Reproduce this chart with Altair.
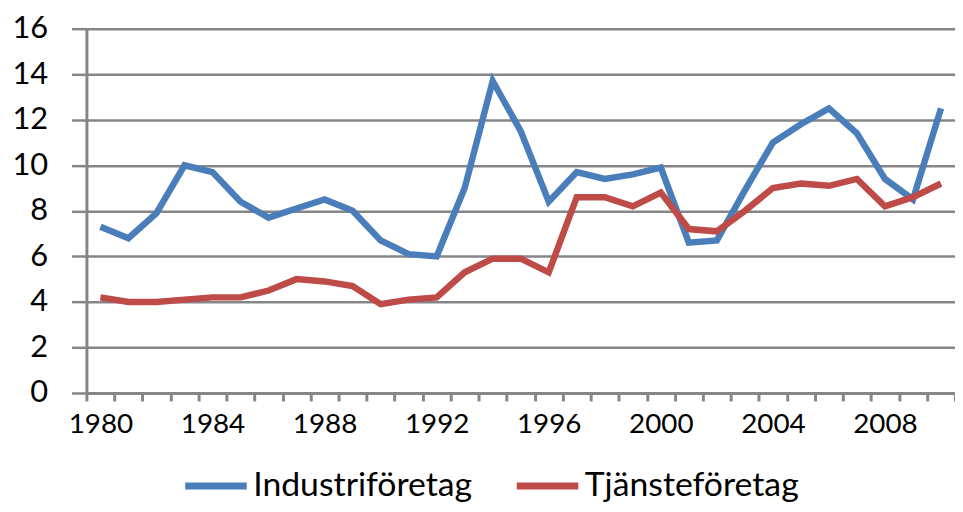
import altair as alt
import pandas as pd

years = list(range(1980, 2011))
industri = [7.3, 6.8, 7.9, 10.0, 9.7, 8.4, 7.7, 8.1, 8.5, 8.0,
            6.7, 6.1, 6.0, 9.0, 13.7, 11.5, 8.4, 9.7, 9.4, 9.6,
            9.9, 6.6, 6.7, 8.9, 11.0, 11.8, 12.5, 11.4, 9.4, 8.5, 12.5]
tjanste = [4.2, 4.0, 4.0, 4.1, 4.2, 4.2, 4.5, 5.0, 4.9, 4.7,
           3.9, 4.1, 4.2, 5.3, 5.9, 5.9, 5.3, 8.6, 8.6, 8.2,
           8.8, 7.2, 7.1, 8.0, 9.0, 9.2, 9.1, 9.4, 8.2, 8.6, 9.2]
series = ["Industriföretag", "Tjänsteföretag"]
colors = ["#4A7EBB", "#BE4B48"]
y_ticks = [0, 2, 4, 6, 8, 10, 12, 14, 16]

rows = []
for s, vals in zip(series, [industri, tjanste]):
    for yr, v in zip(years, vals):
        rows.append({"year": yr, "value": v, "serie": s})
df = pd.DataFrame(rows)

FONT = "Lato"
GRID = "#868686"

chart = alt.Chart(df).mark_line(strokeWidth=6.5, strokeJoin="miter").encode(
    x=alt.X(
        "year:O",
        title=None,
        scale=alt.Scale(paddingInner=0, paddingOuter=0),
        axis=alt.Axis(
            labelExpr="datum.value % 4 == 0 ? datum.label : ''",
            labelAngle=0,
            tickBand="extent",
            tickSize=8,
            tickWidth=3,
            tickColor=GRID,
            domainColor=GRID,
            domainWidth=3,
            labelFont=FONT,
            labelFontSize=28,
            labelColor="#000000",
            labelPadding=10,
            grid=False,
        ),
    ),
    y=alt.Y(
        "value:Q",
        title=None,
        scale=alt.Scale(domain=[0, 16], nice=False),
        axis=alt.Axis(
            values=y_ticks,
            tickSize=15,
            tickWidth=2.5,
            tickColor=GRID,
            domainColor=GRID,
            domainWidth=3,
            grid=True,
            gridColor=GRID,
            gridWidth=2.5,
            gridOpacity=1,
            labelFont=FONT,
            labelFontSize=31,
            labelColor="#000000",
            labelPadding=24,
        ),
    ),
    color=alt.Color(
        "serie:N",
        title=None,
        scale=alt.Scale(domain=series, range=colors),
        legend=alt.Legend(
            orient="none",
            direction="horizontal",
            legendX=96,
            legendY=426,
            symbolType="stroke",
            symbolSize=3844,
            symbolStrokeWidth=7,
            labelFont=FONT,
            labelFontSize=34,
            labelColor="#000000",
            labelOffset=3,
            labelLimit=500,
            columnPadding=30,
        ),
    ),
    order=alt.Order("year:Q"),
).properties(
    width=875,
    height=367,
    autosize=alt.AutoSizeParams(type="none"),
    padding={"left": 79, "top": 19, "right": 0, "bottom": 110},
).configure_view(stroke=None)

chart.save("out.html", embed_options={"renderer": "svg", "actions": False})
